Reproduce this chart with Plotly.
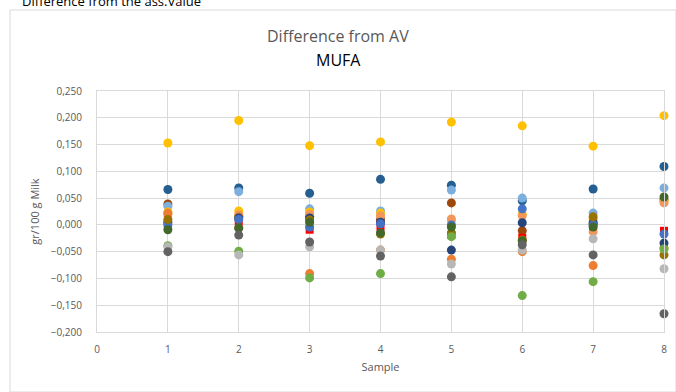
import plotly.graph_objects as go

samples = [1, 2, 3, 4, 5, 6, 7, 8]

# Differences from assigned value (g/100 g milk), one list per lab/series
lab_gold      = [0.153, 0.195, 0.148, 0.155, 0.192, 0.185, 0.147, 0.204]
lab_dkblue    = [0.066, 0.069, 0.059, 0.085, 0.074, 0.045, 0.067, 0.109]
lab_ltblue    = [0.035, 0.062, 0.030, 0.026, 0.065, 0.050, 0.022, 0.069]
lab_brown     = [0.039, 0.016, 0.016, 0.010, 0.041, -0.011, 0.002, 0.047]
lab_yellow    = [0.024, 0.026, 0.024, 0.022, 0.008, 0.020, 0.010, 0.044]
lab_ltorange  = [0.019, 0.019, 0.020, 0.017, 0.011, 0.017, -0.013, 0.041]
lab_navy      = [0.005, 0.013, 0.013, 0.005, -0.047, 0.004, 0.004, -0.034]
lab_red       = [0.002, 0.006, -0.009, -0.004, -0.019, -0.024, -0.002, -0.011]
lab_blue      = [0.000, 0.010, -0.004, 0.002, 0.000, 0.030, 0.000, -0.017]
lab_olive     = [0.010, -0.006, 0.009, -0.017, -0.015, -0.028, 0.015, -0.056]
lab_dkgreen   = [-0.009, -0.006, 0.005, -0.015, -0.004, -0.030, -0.004, 0.052]
lab_orange    = [0.022, 0.015, -0.091, -0.047, -0.064, -0.050, -0.076, -0.043]
lab_green     = [-0.039, -0.049, -0.099, -0.091, -0.022, -0.132, -0.106, -0.045]
lab_ltgray    = [-0.041, -0.056, -0.041, -0.047, -0.073, -0.047, -0.026, -0.082]
lab_dkgray    = [-0.050, -0.019, -0.032, -0.058, -0.097, -0.037, -0.056, -0.166]

series = [
    (lab_gold, "#FFC000", "circle"),
    (lab_dkblue, "#255E91", "circle"),
    (lab_brown, "#9E480E", "circle"),
    (lab_ltblue, "#7CAFDD", "circle"),
    (lab_yellow, "#FFC000", "circle"),
    (lab_ltorange, "#F1975A", "circle"),
    (lab_orange, "#ED7D31", "circle"),
    (lab_red, "#FF0000", "square"),
    (lab_navy, "#264478", "circle"),
    (lab_blue, "#4472C4", "circle"),
    (lab_olive, "#997300", "circle"),
    (lab_dkgreen, "#43682B", "circle"),
    (lab_green, "#70AD47", "circle"),
    (lab_ltgray, "#B7B7B7", "circle"),
    (lab_dkgray, "#636363", "circle"),
]

fig = go.Figure()
for vals, col, sym in series:
    fig.add_trace(go.Scatter(
        x=samples, y=vals, mode="markers", cliponaxis=False,
        marker=dict(color=col, size=9 if sym == "circle" else 8, symbol=sym, line=dict(width=0)),
        showlegend=False, hoverinfo="x+y"))

L, R, T, B = 97, 12, 91, 60
W, H = 676, 392
pw, ph = W - L - R, H - T - B

def px(x):
    return (x - L) / pw

def py(y):
    return (H - B - y) / ph

fig.update_layout(
    width=W, height=H,
    margin=dict(l=L, r=R, t=T, b=B, autoexpand=False),
    paper_bgcolor="white", plot_bgcolor="white",
    separators=",.",
    font=dict(family="Open Sans, Liberation Sans, sans-serif", size=10, color="#595959"),
    xaxis=dict(range=[0, 8], dtick=1, tick0=0, showgrid=True, gridcolor="#D9D9D9", gridwidth=1,
               zeroline=False, showline=True, linecolor="#D9D9D9", mirror=True, ticks="",
               automargin=False, ticklabelstandoff=8,
               title=dict(text="Sample", font=dict(size=11, color="#595959"), standoff=8)),
    yaxis=dict(range=[-0.2, 0.25], dtick=0.05, tick0=0, tickformat=".3f", showgrid=True,
               gridcolor="#D9D9D9", gridwidth=1, zeroline=False, showline=True, linecolor="#D9D9D9",
               mirror=True, ticks="", automargin=False, ticklabelstandoff=12,
               title=dict(text="gr/100 g Milk", font=dict(size=11, color="#595959"), standoff=8)),
    shapes=[dict(type="rect", xref="paper", yref="paper",
                 x0=px(10), x1=px(676), y0=py(392), y1=py(10),
                 line=dict(color="#D9D9D9", width=1), fillcolor="rgba(0,0,0,0)", layer="below")],
    annotations=[
        dict(text="Difference from AV", xref="paper", yref="paper", x=px(338), y=py(36),
             showarrow=False, font=dict(size=16, color="#595959"), xanchor="center", yanchor="middle"),
        dict(text="MUFA", xref="paper", yref="paper", x=px(338), y=py(60),
             showarrow=False, font=dict(size=16, color="#000000"), xanchor="center", yanchor="middle"),
        dict(text="Difference from the ass.Value", xref="paper", yref="paper", x=px(20), y=py(1),
             showarrow=False, font=dict(size=13, color="#000000"), xanchor="left", yanchor="middle"),
    ],
)

fig.write_html("out.html", config={"displayModeBar": False},
               post_script="document.body.style.margin='0';document.body.style.overflow='hidden';")
